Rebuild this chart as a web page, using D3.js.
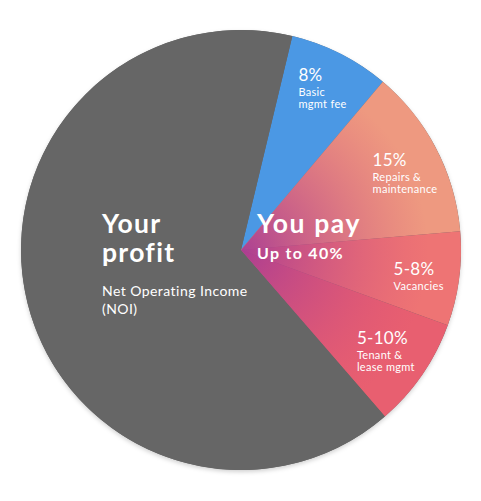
<!DOCTYPE html>
<html>
<head>
<meta charset="utf-8">
<script src="https://cdn.jsdelivr.net/npm/d3@7"></script>
<style>
  html, body { margin: 0; padding: 0; background: #fff; }
  svg { display: block; }
  text { font-family: Lato, "Noto Sans", sans-serif; fill: #fff; }
</style>
</head>
<body>
<div id="chart"></div>
<script>
// slices, clockwise from the blue one (sizes, in % of the circle)
var categories = ["Basic mgmt fee", "Repairs & maintenance", "Vacancies", "Tenant & lease mgmt", "Net Operating Income (NOI)"];
var shares = [7.4, 12.5, 6.9, 8.1, 65.1];
var shareLabels = ["8%", "15%", "5-8%", "5-10%", ""];
var subLabels = [["Basic", "mgmt fee"], ["Repairs &", "maintenance"], ["Vacancies"], ["Tenant &", "lease mgmt"], []];
var colors = ["#4b98e4", "#ee9980", "#ee7474", "#e85f70", "#666666"];

var width = 481, height = 501;
var cx = 241, cy = 250, radius = 220;
// where the first slice starts, degrees clockwise from 12 o'clock
var startDeg = 13.5;
// label nudges relative to the arc centroid (layout only)
var labelNudge = [[-17, -22], [-15, -8], [-11, 3], [-20, 0]];

var svg = d3.select('#chart').append('svg').attr('width', width).attr('height', height);
var defs = svg.append('defs');

var shadow = defs.append('filter').attr('id', 'shadow').attr('x', '-10%').attr('y', '-10%').attr('width', '120%').attr('height', '120%');
shadow.append('feDropShadow').attr('dx', 0).attr('dy', 2).attr('stdDeviation', 2).attr('flood-color', '#000').attr('flood-opacity', 0.18);

var grad = defs.append('radialGradient').attr('id', 'payGlow')
  .attr('gradientUnits', 'userSpaceOnUse')
  .attr('cx', 0).attr('cy', 0).attr('r', radius);
grad.append('stop').attr('offset', '0%').attr('stop-color', '#a83c94').attr('stop-opacity', 0.95);
grad.append('stop').attr('offset', '45%').attr('stop-color', '#bf4688').attr('stop-opacity', 0.45);
grad.append('stop').attr('offset', '85%').attr('stop-color', '#d8507a').attr('stop-opacity', 0);

var g = svg.append('g').attr('transform', 'translate(' + cx + ',' + cy + ')');

var rad = Math.PI / 180;
var pie = d3.pie().sort(null).value(function (d) { return d; })
  .startAngle(startDeg * rad).endAngle(startDeg * rad + 2 * Math.PI);
var arcs = pie(shares);
var arc = d3.arc().innerRadius(0).outerRadius(radius);
var labelArc = d3.arc().innerRadius(radius * 0.75).outerRadius(radius * 0.75);

g.append('circle').attr('r', radius).attr('fill', '#666').attr('filter', 'url(#shadow)');

g.selectAll('path.slice')
  .data(arcs)
  .enter()
  .append('path')
  .attr('class', 'slice')
  .attr('d', arc)
  .attr('fill', function (d, i) { return colors[i]; });

// purple glow over the "you pay" slices
var payArc = {startAngle: arcs[1].startAngle, endAngle: arcs[3].endAngle};
g.append('path').attr('d', arc(payArc)).attr('fill', 'url(#payGlow)');

// small slice labels, one text per line
arcs.slice(0, 4).forEach(function (d, i) {
  var c = labelArc.centroid(d);
  var x = c[0] + labelNudge[i][0], y = c[1] + labelNudge[i][1];
  g.append('text').attr('x', x).attr('y', y).attr('font-size', 17).attr('letter-spacing', 0.3).text(shareLabels[i]);
  subLabels[i].forEach(function (s, j) {
    g.append('text').attr('x', x).attr('y', y + 15 + j * 12)
      .attr('font-size', 11).attr('letter-spacing', 0.3).text(s);
  });
});

// big labels
g.append('text').attr('x', -139).attr('y', -17).attr('font-weight', 700)
  .attr('font-size', 26.5).attr('letter-spacing', 1.3).text('Your');
g.append('text').attr('x', -139).attr('y', 12).attr('font-weight', 700)
  .attr('font-size', 26.5).attr('letter-spacing', 1.3).text('profit');
g.append('text').attr('x', -139).attr('y', 46).attr('font-size', 14)
  .attr('letter-spacing', 0.45).text('Net Operating Income');
g.append('text').attr('x', -139).attr('y', 64).attr('font-size', 14)
  .attr('letter-spacing', 0.45).text('(NOI)');

g.append('text').attr('x', 16).attr('y', -17).attr('font-weight', 700)
  .attr('font-size', 26.5).attr('letter-spacing', 1.6).text('You pay');
g.append('text').attr('x', 16).attr('y', 9).attr('font-weight', 700)
  .attr('font-size', 16).attr('letter-spacing', 1.3).text('Up to 40%');
</script>
</body>
</html>
